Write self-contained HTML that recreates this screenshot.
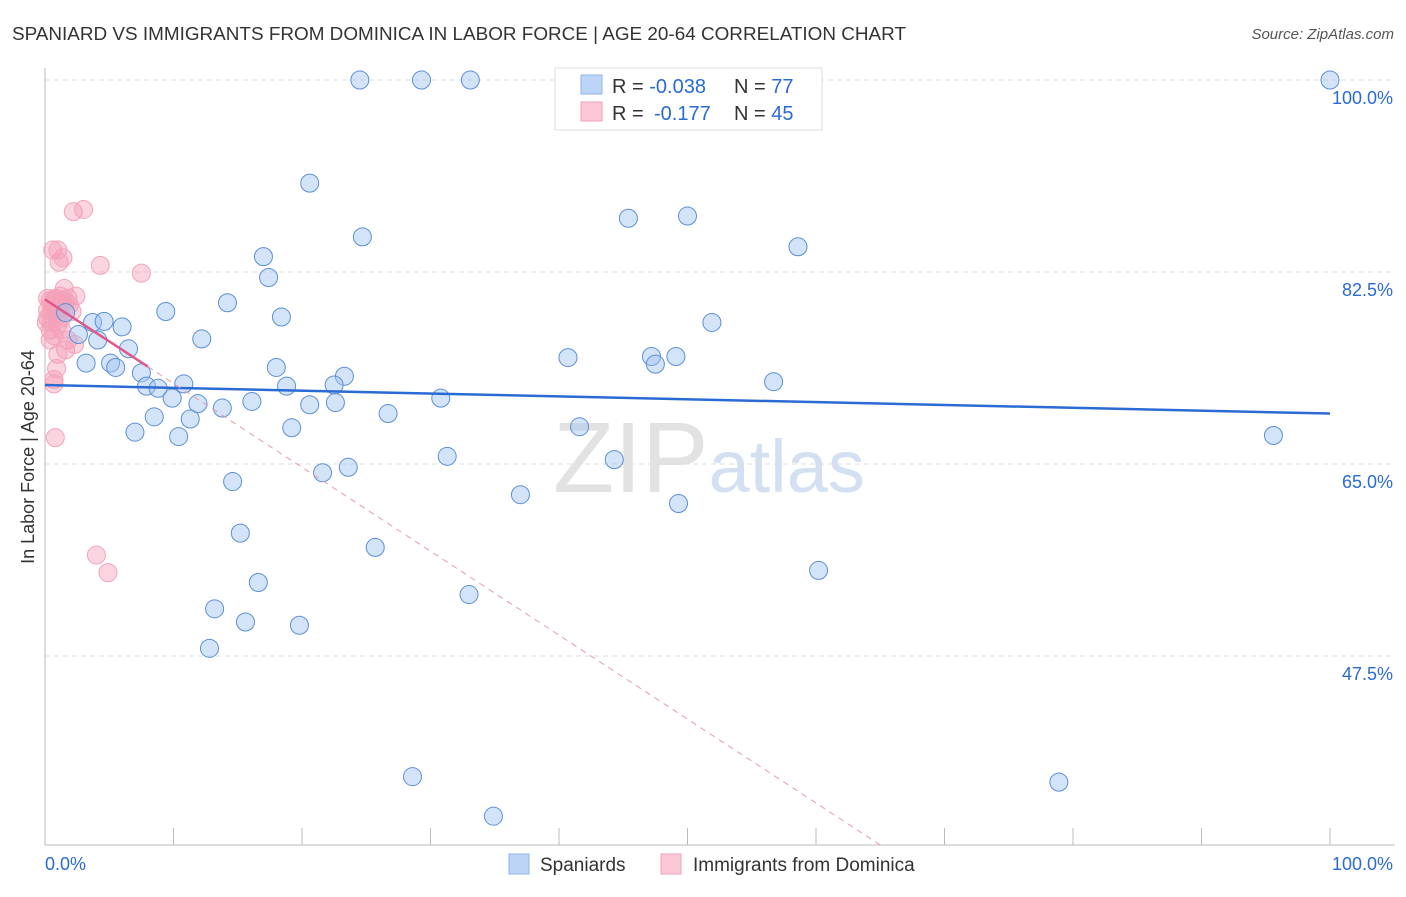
<!DOCTYPE html>
<html><head><meta charset="utf-8"><style>
body{margin:0;background:#fff;font-family:"Liberation Sans",sans-serif;}
svg text{font-family:"Liberation Sans",sans-serif;}
</style></head><body>
<svg id="chart" width="1406" height="892" xmlns="http://www.w3.org/2000/svg">
<text x="12" y="40" font-size="18" fill="#333" textLength="894" lengthAdjust="spacingAndGlyphs">SPANIARD VS IMMIGRANTS FROM DOMINICA IN LABOR FORCE | AGE 20-64 CORRELATION CHART</text>
<text x="1394" y="39" font-size="15" fill="#555" text-anchor="end" font-style="italic">Source: ZipAtlas.com</text>
<text x="553" y="492" font-size="100" fill="#e2e2e2" font-family="Liberation Serif">ZIP<tspan fill="#d3e0f2" font-family="Liberation Sans" font-size="74">atlas</tspan></text>
<g id="grid"></g><g id="axes"></g><g id="marks"></g>
<g>
<rect x="555" y="68" width="267" height="62" fill="#fff" stroke="#ddd"/>
<rect x="581" y="75" width="21" height="19" fill="#bcd4f5" stroke="#8fb3e6"/>
<rect x="581" y="102" width="21" height="19" fill="#fbc8d7" stroke="#f0a0b8"/>
<text x="612" y="93" font-size="20" fill="#333">R = <tspan fill="#2a6bd3">-0.038</tspan><tspan x="734">N = </tspan><tspan fill="#2a6bd3">77</tspan></text>
<text x="612" y="120" font-size="20" fill="#333">R = <tspan fill="#2a6bd3" x="654">-0.177</tspan><tspan x="734">N = </tspan><tspan fill="#2a6bd3">45</tspan></text>
</g>
<g>
<rect x="509" y="854" width="20" height="20" fill="#bcd4f5" stroke="#8fb3e6"/>
<text x="540" y="871" font-size="19" fill="#333">Spaniards</text>
<rect x="661" y="854" width="20" height="20" fill="#fbc8d7" stroke="#f0a0b8"/>
<text x="693" y="871" font-size="19" fill="#333">Immigrants from Dominica</text>
</g>
<text transform="translate(34,457) rotate(-90)" font-size="18" fill="#333" text-anchor="middle">In Labor Force | Age 20-64</text>
</svg>
<script>
const yTicks=[100,82.5,65,47.5];
const xTickLabels=["0.0%","100.0%"];
const blueX=[24.5,29.3,33.1,100,20.6,24.7,45.4,50.0,58.6,17.0,17.4,14.2,9.4,18.4,51.9,3.7,4.6,6.0,1.6,4.1,2.6,12.2,6.5,3.2,5.1,5.5,7.5,40.7,47.2,49.1,47.5,18.0,23.3,7.9,8.8,10.8,18.8,22.5,56.7,9.9,11.9,13.8,16.1,20.6,22.6,30.8,26.7,8.5,11.3,7.0,10.4,19.2,41.6,95.6,31.3,44.3,23.6,21.6,14.6,37.0,49.3,15.2,25.7,60.2,16.6,33.0,13.2,15.6,19.8,12.8,28.6,78.9,34.9];
const blueY=[100,100,100,100,90.6,85.7,87.4,87.6,84.8,83.9,82.0,79.7,78.9,78.4,77.9,77.9,78.0,77.5,78.8,76.3,76.8,76.4,75.5,74.2,74.2,73.8,73.3,74.7,74.8,74.8,74.1,73.8,73.0,72.1,71.9,72.3,72.1,72.2,72.5,71.0,70.5,70.1,70.7,70.4,70.6,71.0,69.6,69.3,69.1,67.9,67.5,68.3,68.4,67.6,65.7,65.4,64.7,64.2,63.4,62.2,61.4,58.7,57.4,55.3,54.2,53.1,51.8,50.6,50.3,48.2,36.5,36.0,32.9];
const pinkX=[2.2,3.0,0.6,1.0,1.1,1.4,4.3,7.5,0.8,1.3,1.8,2.4,1.5,0.5,0.9,1.2,2.1,0.2,0.5,1.0,0.4,0.7,1.3,1.8,1.0,1.6,2.3,0.9,0.7,0.7,0.8,4.0,4.9,0.4,0.2,0.1,1.9,0.7,1.3,0.4,1.2,1.6,1.0,0.5,0.2];
const pinkY=[88.0,88.2,84.5,84.5,83.4,83.8,83.1,82.4,80.1,79.9,80.1,80.3,81.0,79.5,79.0,79.4,78.9,78.3,77.9,77.7,77.2,76.7,77.2,76.3,75.0,75.4,75.9,73.7,72.7,72.3,67.4,56.7,55.1,79.9,79.0,77.9,79.5,79.9,78.3,76.3,80.3,79.8,78.5,78.9,80.1];
const blueFit=[72.2,-0.026];
const pinkFit=[80.0,-0.765];
const NS="http://www.w3.org/2000/svg";
const X=v=>45+v*12.85, Y=v=>80+(100-v)*192/17.5;
function mk(t,a,p){const e=document.createElementNS(NS,t);for(const k in a)e.setAttribute(k,a[k]);p.appendChild(e);return e;}
const grid=document.getElementById('grid'),axes=document.getElementById('axes'),marks=document.getElementById('marks');
yTicks.forEach(t=>{
 const l=mk('line',{x1:45,x2:1395,y1:Y(t),y2:Y(t),stroke:'#ddd','stroke-dasharray':'5,4'},grid);
 
 
 const tx=mk('text',{x:1393,y:Y(t)+24,'font-size':18,fill:'#2a6bd3','text-anchor':'end'},axes);
 tx.textContent=t.toFixed(1)+'%';
 
 
});
const ax=mk('line',{x1:45,x2:45,y1:68,y2:845,stroke:'#bbb'},axes);


const bx=mk('line',{x1:45,x2:1395,y1:845,y2:845,stroke:'#bbb'},axes);


for(let i=0;i<=10;i++){const t=mk('line',{x1:X(i*10),x2:X(i*10),y1:828,y2:845,stroke:'#bbb'},axes);
 
 }
const xl0=mk('text',{x:45,y:870,'font-size':18,fill:'#2a6bd3'},axes);xl0.textContent=xTickLabels[0];


const xl1=mk('text',{x:1393,y:870,'font-size':18,fill:'#2a6bd3','text-anchor':'end'},axes);xl1.textContent=xTickLabels[1];


pinkX.forEach((x,i)=>{const c=mk('circle',{cx:X(x),cy:Y(pinkY[i]),r:9,fill:'rgba(245,160,185,0.45)',stroke:'#f3a3bb','stroke-width':1},marks);
 
 });
blueX.forEach((x,i)=>{const c=mk('circle',{cx:X(x),cy:Y(blueY[i]),r:9,fill:'rgba(160,195,240,0.45)',stroke:'#5b8fd9','stroke-width':1},marks);
 
 });
const bl=mk('line',{x1:X(0),y1:Y(blueFit[0]),x2:X(100),y2:Y(blueFit[0]+blueFit[1]*100),stroke:'#2a6bd3','stroke-width':2.5},marks);


const pl=mk('line',{x1:X(0),y1:Y(pinkFit[0]),x2:X(8),y2:Y(pinkFit[0]+pinkFit[1]*8),stroke:'#e0588a','stroke-width':2.5},marks);


const xe=(30-pinkFit[0])/pinkFit[1];
const pd=mk('line',{x1:X(8),y1:Y(pinkFit[0]+pinkFit[1]*8),x2:X(xe),y2:Y(30),stroke:'#e89ab3','stroke-width':1,'stroke-dasharray':'6,5'},marks);


</script>
</body></html>
